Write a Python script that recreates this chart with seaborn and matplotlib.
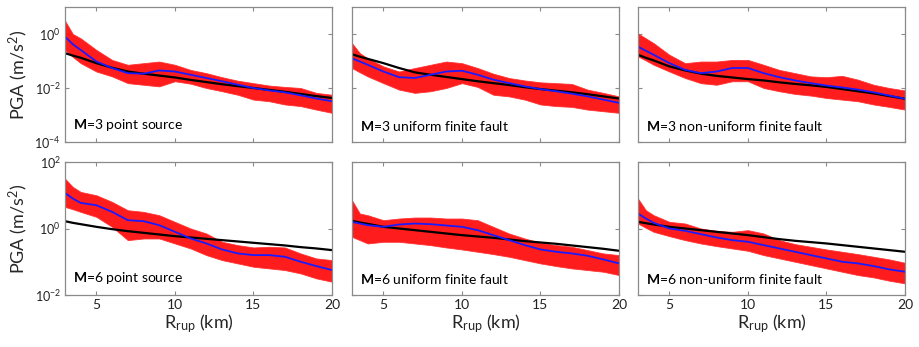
import numpy as np
import pandas as pd
import matplotlib
matplotlib.use("Agg")
import matplotlib.pyplot as plt
import seaborn as sns

# ---------------- data (log10 of PGA in m/s^2) ----------------
x_km = [3, 3.5, 4, 5, 6, 7, 8, 9, 10, 11, 12, 13, 14, 15, 16, 17, 18, 19, 20]

panel_labels = ["=3 point source", "=3 uniform finite fault", "=3 non-uniform finite fault",
                "=6 point source", "=6 uniform finite fault", "=6 non-uniform finite fault"]

# M=3 point source
p1_upper = [0.49, 0.0, -0.16, -0.59, -0.96, -1.14, -1.08, -1.02, -1.14, -1.33, -1.45, -1.60, -1.73, -1.82, -1.91, -1.96, -2.00, -2.18, -2.25]
p1_lower = [-0.59, -0.85, -1.08, -1.39, -1.57, -1.82, -1.88, -1.94, -1.75, -1.84, -2.00, -2.12, -2.25, -2.43, -2.49, -2.61, -2.67, -2.80, -2.92]
p1_median = [-0.10, -0.38, -0.59, -1.02, -1.26, -1.45, -1.47, -1.35, -1.39, -1.51, -1.63, -1.75, -1.88, -2.00, -2.09, -2.16, -2.27, -2.39, -2.49]
p1_gmpe = [-0.71, -0.80, -0.88, -1.08, -1.25, -1.39, -1.47, -1.54, -1.61, -1.70, -1.78, -1.86, -1.93, -2.00, -2.07, -2.14, -2.22, -2.30, -2.37]

# M=3 uniform finite fault
p2_upper = [-0.34, -0.71, -0.90, -1.20, -1.39, -1.26, -1.14, -1.02, -1.08, -1.26, -1.47, -1.63, -1.72, -1.79, -1.82, -1.85, -2.06, -2.18, -2.31]
p2_lower = [-1.26, -1.42, -1.57, -1.82, -2.06, -2.18, -2.12, -2.00, -1.82, -1.96, -2.25, -2.31, -2.43, -2.61, -2.67, -2.70, -2.80, -2.86, -2.92]
p2_median = [-0.90, -1.02, -1.14, -1.39, -1.60, -1.63, -1.51, -1.39, -1.36, -1.51, -1.69, -1.82, -1.94, -2.04, -2.12, -2.21, -2.31, -2.43, -2.55]
p2_gmpe = [-0.75, -0.84, -0.92, -1.08, -1.26, -1.42, -1.51, -1.59, -1.67, -1.75, -1.82, -1.89, -1.97, -2.04, -2.10, -2.16, -2.23, -2.31, -2.39]

# M=3 non-uniform finite fault
p3_upper = [0.02, -0.16, -0.34, -0.77, -1.08, -1.02, -1.02, -0.96, -0.96, -1.14, -1.33, -1.45, -1.57, -1.60, -1.55, -1.69, -1.88, -2.00, -2.09]
p3_lower = [-0.83, -0.98, -1.14, -1.39, -1.63, -1.82, -1.88, -1.75, -1.75, -2.00, -2.12, -2.22, -2.28, -2.37, -2.43, -2.49, -2.61, -2.70, -2.80]
p3_median = [-0.47, -0.62, -0.77, -1.08, -1.33, -1.45, -1.39, -1.26, -1.26, -1.45, -1.60, -1.72, -1.82, -1.91, -1.98, -2.06, -2.16, -2.28, -2.40]
p3_gmpe = [-0.77, -0.88, -0.98, -1.20, -1.35, -1.47, -1.55, -1.61, -1.67, -1.72, -1.79, -1.85, -1.90, -1.96, -2.04, -2.12, -2.20, -2.30, -2.40]

# M=6 point source
p4_upper = [1.50, 1.25, 1.10, 1.00, 0.80, 0.55, 0.50, 0.40, 0.20, 0.00, -0.15, -0.40, -0.50, -0.57, -0.55, -0.57, -0.75, -0.90, -0.95]
p4_lower = [0.65, 0.58, 0.50, 0.35, 0.05, -0.35, -0.30, -0.30, -0.45, -0.60, -0.80, -0.95, -1.05, -1.15, -1.20, -1.25, -1.35, -1.50, -1.60]
p4_median = [1.07, 0.90, 0.77, 0.70, 0.50, 0.25, 0.22, 0.10, -0.10, -0.30, -0.45, -0.63, -0.75, -0.80, -0.80, -0.85, -1.00, -1.13, -1.25]
p4_gmpe = [0.22, 0.17, 0.13, 0.05, -0.02, -0.08, -0.13, -0.18, -0.23, -0.27, -0.31, -0.35, -0.39, -0.43, -0.47, -0.51, -0.56, -0.60, -0.65]

# M=6 uniform finite fault
p5_upper = [0.85, 0.45, 0.40, 0.25, 0.30, 0.33, 0.33, 0.30, 0.30, 0.25, 0.05, -0.15, -0.30, -0.43, -0.50, -0.55, -0.65, -0.75, -0.80]
p5_lower = [-0.25, -0.35, -0.45, -0.40, -0.40, -0.45, -0.50, -0.57, -0.63, -0.70, -0.77, -0.85, -0.95, -1.05, -1.13, -1.20, -1.25, -1.30, -1.40]
p5_median = [0.20, 0.15, 0.10, 0.05, 0.12, 0.15, 0.13, 0.09, 0.05, -0.05, -0.20, -0.35, -0.50, -0.63, -0.70, -0.75, -0.82, -0.93, -1.05]
p5_gmpe = [0.23, 0.18, 0.14, 0.05, 0.00, -0.05, -0.10, -0.15, -0.20, -0.24, -0.28, -0.33, -0.38, -0.42, -0.46, -0.51, -0.56, -0.61, -0.67]

# M=6 non-uniform finite fault
p6_upper = [0.90, 0.55, 0.40, 0.20, 0.15, 0.00, -0.07, -0.10, -0.05, -0.15, -0.35, -0.47, -0.55, -0.63, -0.70, -0.77, -0.85, -0.93, -1.03]
p6_lower = [0.15, 0.02, -0.10, -0.23, -0.35, -0.45, -0.53, -0.60, -0.67, -0.80, -0.90, -1.00, -1.10, -1.20, -1.30, -1.40, -1.47, -1.57, -1.65]
p6_median = [0.45, 0.30, 0.17, 0.00, -0.07, -0.17, -0.27, -0.35, -0.40, -0.50, -0.60, -0.70, -0.80, -0.90, -1.00, -1.05, -1.13, -1.23, -1.30]
p6_gmpe = [0.20, 0.16, 0.12, 0.05, 0.00, -0.05, -0.10, -0.15, -0.20, -0.26, -0.32, -0.37, -0.41, -0.45, -0.50, -0.55, -0.60, -0.65, -0.70]

uppers = [p1_upper, p2_upper, p3_upper, p4_upper, p5_upper, p6_upper]
lowers = [p1_lower, p2_lower, p3_lower, p4_lower, p5_lower, p6_lower]
medians = [p1_median, p2_median, p3_median, p4_median, p5_median, p6_median]
gmpes = [p1_gmpe, p2_gmpe, p3_gmpe, p4_gmpe, p5_gmpe, p6_gmpe]

row_ylims = [(1e-4, 1e1), (1e-2, 1e2)]
row_yticks = [[1e-4, 1e-2, 1e0], [1e-2, 1e0, 1e2]]
x_ticks = [5, 10, 15, 20]

# ---------------- style ----------------
sns.set_theme(style="ticks")
plt.rcParams["font.family"] = ["Lato", "DejaVu Sans"]
plt.rcParams["mathtext.fontset"] = "custom"
plt.rcParams["mathtext.rm"] = "Lato"
plt.rcParams["mathtext.it"] = "Lato:italic"
plt.rcParams["mathtext.bf"] = "Lato:bold"

fig = plt.figure(figsize=(9.19, 3.47), dpi=100)
lefts = [65 / 919, 352 / 919, 638 / 919]
width = 267 / 919
bottoms = [1 - 142 / 347, 1 - 295 / 347]
heights = [135 / 347, 133 / 347]

frame_col = "#8a8a8a"
for i in range(6):
    r, c = divmod(i, 3)
    ax = fig.add_axes([lefts[c], bottoms[r], width, heights[r]])
    df = pd.DataFrame({
        "R": x_km,
        "upper": 10 ** np.array(uppers[i]),
        "lower": 10 ** np.array(lowers[i]),
        "median": 10 ** np.array(medians[i]),
        "gmpe": 10 ** np.array(gmpes[i]),
    })
    ax.set_yscale("log")
    ax.fill_between(df["R"], df["lower"], df["upper"], color="#ff0f0f", alpha=0.95,
                    linewidth=0.6, edgecolor="#ff3030")
    sns.lineplot(data=df, x="R", y="gmpe", ax=ax, color="black", linewidth=1.6)
    sns.lineplot(data=df, x="R", y="median", ax=ax, color="#1a1aff", linewidth=1.3)
    ax.set_xlim(3, 20)
    ax.set_ylim(*row_ylims[r])
    ax.set_xticks(x_ticks)
    ax.set_yticks(row_yticks[r])
    ax.minorticks_off()
    ax.tick_params(direction="in", top=True, right=True, length=3, width=0.8,
                   color=frame_col, labelsize=10, labelcolor="#222222", pad=3)
    for sp in ax.spines.values():
        sp.set_color(frame_col)
        sp.set_linewidth(0.9)
    if r == 0:
        ax.set_xticklabels([])
        ax.set_xlabel("")
    else:
        ax.set_xlabel(r"R$_{\mathrm{rup}}$ (km)", fontsize=13, labelpad=1)
    if c == 0:
        ax.set_ylabel(r"PGA (m/s$^2$)", fontsize=13, labelpad=3)
        ax.tick_params(axis="y", labelsize=9)
    else:
        ax.set_yticklabels([])
        ax.set_ylabel("")
    ax.text(0.03, 0.07, r"$\mathbf{M}$" + panel_labels[i], transform=ax.transAxes,
            fontsize=10, color="black", ha="left", va="bottom")

fig.savefig("out.png", dpi=100)
